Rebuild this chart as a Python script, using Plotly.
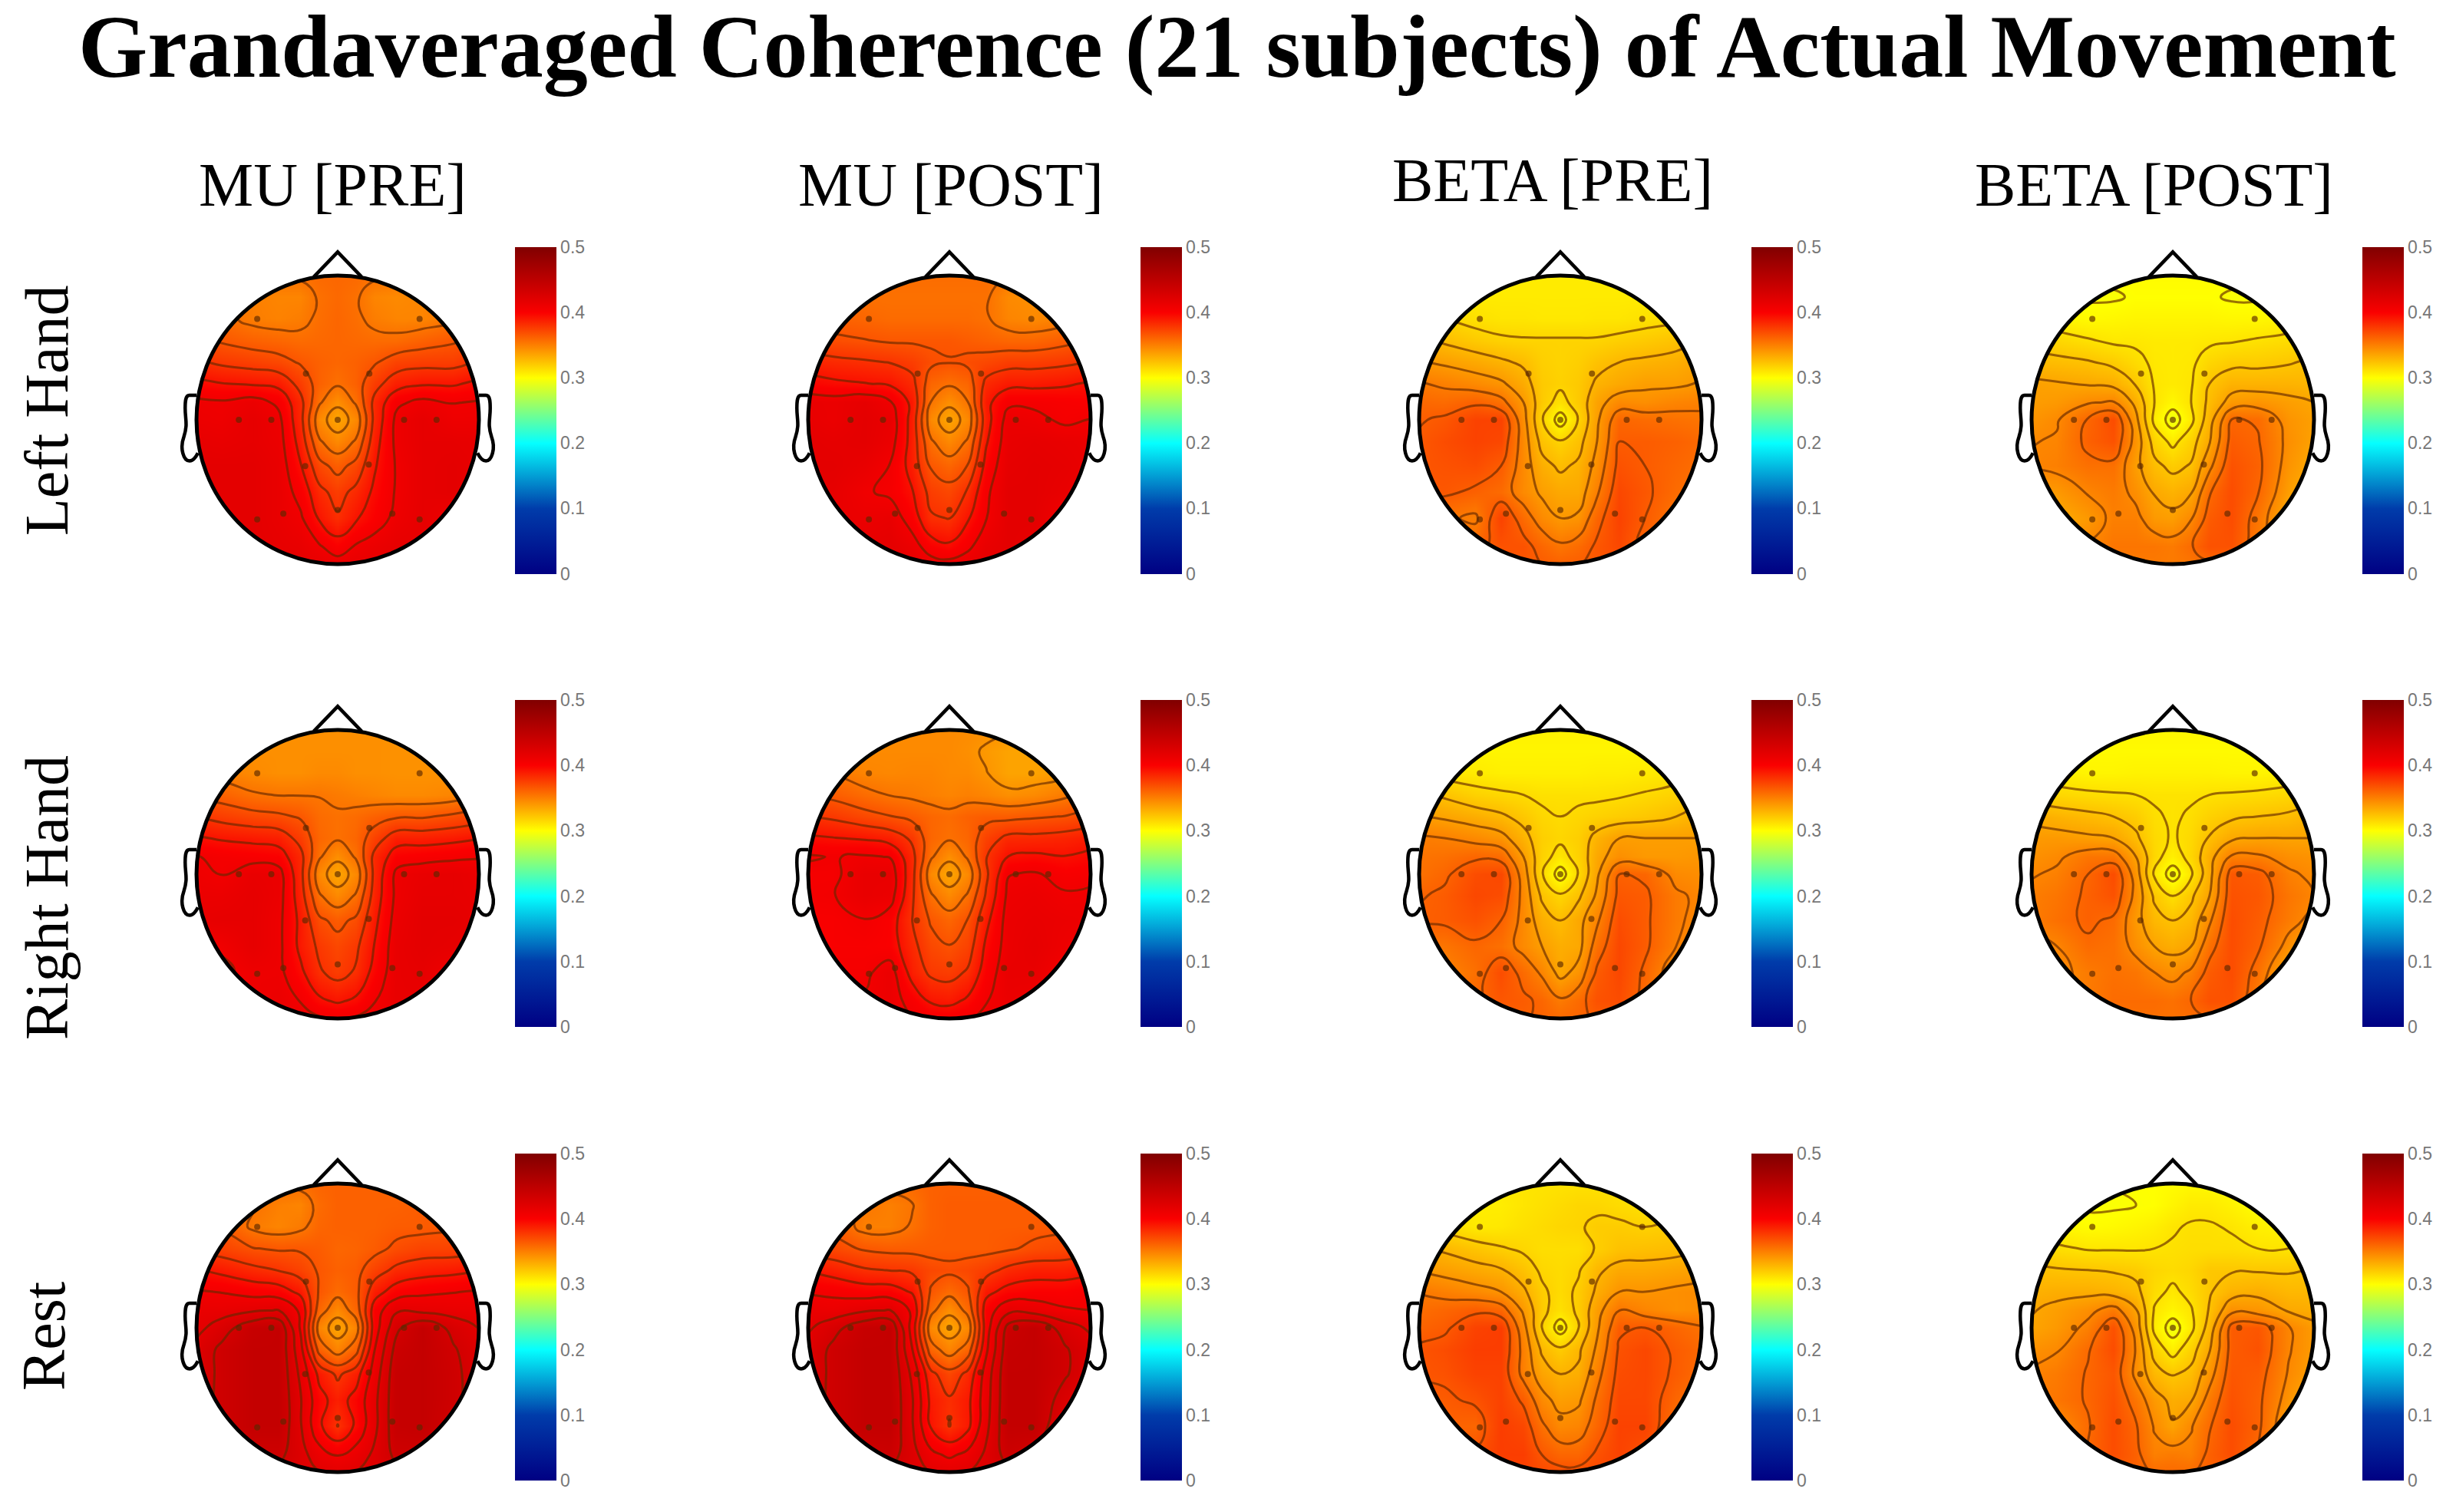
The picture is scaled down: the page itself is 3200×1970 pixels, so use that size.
import numpy as np
import plotly.graph_objects as go
from plotly.subplots import make_subplots

chart_title = "Grandaveraged Coherence (21 subjects) of Actual Movement"
band_titles = ["MU [PRE]", "MU [POST]", "BETA [PRE]", "BETA [POST]"]
condition_titles = ["Left Hand", "Right Hand", "Rest"]

cbar_ticks = [0, 0.1, 0.2, 0.3, 0.4, 0.5]
cbar_labels = ["0", "0.1", "0.2", "0.3", "0.4", "0.5"]

# scalp grid nodes, head radius = 1
grid_x = [-1.06, -0.82, -0.6, -0.42, -0.26, -0.13, 0, 0.13, 0.26, 0.42, 0.6, 0.82, 1.06]
grid_y = [1.06, 0.85, 0.7, 0.55, 0.4, 0.25, 0.12, 0, -0.15, -0.32, -0.5, -0.68, -0.88, -1.06]

electrode_x = [-0.57, 0.58, -0.225, 0.224, -0.7, -0.47, 0, 0.47, 0.7, -0.23, 0.22, 0, -0.385, 0.387, -0.57, 0.58]
electrode_y = [0.7, 0.7, 0.32, 0.32, 0, 0, 0, 0, 0, -0.32, -0.31, -0.625, -0.65, -0.65, -0.69, -0.69]

# coherence x 1000, rows run front of head to back
mu_pre_left = [
    [380, 380, 380, 380, 380, 380, 380, 380, 380, 380, 380, 380, 380],
    [380, 378, 370, 368, 368, 376, 379, 376, 368, 366, 368, 378, 380],
    [384, 378, 371, 369, 371, 377, 380, 377, 371, 368, 368, 374, 384],
    [392, 386, 382, 380, 378, 379, 380, 379, 378, 378, 382, 386, 392],
    [404, 398, 395, 392, 386, 382, 380, 382, 386, 394, 396, 396, 404],
    [418, 414, 412, 410, 396, 382, 376, 382, 396, 408, 412, 412, 418],
    [430, 428, 432, 424, 404, 376, 364, 376, 404, 424, 430, 426, 428],
    [432, 430, 436, 430, 404, 366, 355, 366, 404, 430, 436, 430, 430],
    [436, 434, 436, 432, 408, 376, 366, 376, 408, 430, 436, 436, 434],
    [438, 438, 438, 434, 414, 392, 383, 392, 412, 428, 436, 438, 434],
    [438, 438, 438, 434, 422, 404, 396, 404, 416, 428, 436, 438, 432],
    [438, 438, 438, 434, 428, 412, 402, 412, 420, 430, 436, 430, 426],
    [438, 438, 438, 436, 434, 428, 420, 428, 432, 436, 436, 430, 428],
    [438, 438, 438, 438, 438, 438, 438, 438, 438, 438, 438, 438, 438],
]
mu_post_left = [
    [378, 378, 378, 378, 378, 378, 378, 378, 378, 378, 378, 378, 378],
    [380, 378, 376, 376, 376, 376, 376, 376, 376, 366, 364, 368, 378],
    [384, 382, 380, 378, 378, 378, 378, 378, 376, 368, 366, 370, 380],
    [394, 390, 388, 386, 386, 386, 386, 384, 382, 380, 380, 384, 390],
    [408, 404, 402, 400, 396, 390, 388, 390, 392, 396, 396, 398, 402],
    [420, 416, 414, 412, 404, 380, 376, 380, 404, 410, 410, 412, 416],
    [434, 432, 436, 428, 410, 374, 364, 374, 410, 424, 424, 422, 420],
    [436, 432, 438, 434, 408, 366, 355, 366, 408, 432, 430, 424, 428],
    [438, 436, 438, 432, 408, 376, 366, 376, 412, 434, 436, 434, 432],
    [438, 438, 434, 426, 408, 386, 380, 388, 418, 436, 438, 436, 432],
    [438, 436, 428, 424, 414, 396, 392, 402, 424, 438, 438, 434, 428],
    [436, 434, 432, 434, 420, 402, 400, 412, 426, 438, 438, 426, 420],
    [436, 434, 436, 438, 432, 420, 416, 424, 434, 438, 436, 426, 424],
    [438, 438, 438, 438, 438, 438, 438, 438, 438, 438, 438, 438, 438],
]
beta_pre_left = [
    [320, 320, 320, 320, 320, 320, 320, 320, 320, 320, 320, 320, 320],
    [320, 320, 320, 320, 320, 320, 320, 320, 320, 320, 320, 320, 320],
    [332, 328, 324, 322, 322, 321, 321, 321, 322, 322, 324, 326, 332],
    [344, 338, 333, 330, 329, 329, 329, 329, 329, 331, 333, 336, 342],
    [354, 350, 346, 342, 338, 331, 329, 331, 336, 340, 342, 344, 350],
    [366, 362, 358, 354, 345, 333, 330, 333, 342, 346, 350, 350, 354],
    [372, 370, 374, 368, 352, 333, 324, 333, 348, 358, 356, 360, 362],
    [374, 378, 386, 386, 356, 329, 310, 329, 350, 372, 370, 368, 366],
    [376, 382, 386, 384, 358, 336, 329, 336, 352, 376, 376, 374, 370],
    [378, 380, 382, 376, 358, 344, 338, 342, 356, 380, 376, 372, 368],
    [378, 378, 374, 370, 358, 350, 346, 346, 362, 384, 378, 370, 366],
    [370, 366, 362, 386, 370, 358, 352, 354, 372, 386, 376, 366, 362],
    [376, 372, 372, 380, 380, 372, 366, 370, 378, 384, 372, 368, 368],
    [378, 378, 378, 378, 378, 378, 378, 378, 378, 378, 378, 378, 378],
]
beta_post_left = [
    [314, 314, 314, 314, 314, 314, 314, 314, 314, 314, 314, 314, 314],
    [312, 310, 310, 310, 312, 312, 312, 312, 312, 310, 310, 312, 314],
    [320, 316, 314, 315, 316, 316, 316, 316, 316, 315, 315, 317, 322],
    [332, 328, 324, 321, 321, 320, 320, 320, 321, 322, 324, 326, 330],
    [340, 338, 336, 332, 326, 321, 320, 321, 328, 332, 332, 334, 338],
    [350, 348, 346, 344, 334, 322, 320, 322, 335, 342, 342, 342, 340],
    [350, 352, 358, 360, 344, 323, 315, 323, 338, 352, 354, 350, 346],
    [352, 358, 372, 382, 350, 320, 305, 320, 342, 372, 370, 354, 348],
    [358, 360, 374, 380, 354, 330, 320, 330, 346, 376, 372, 356, 346],
    [360, 362, 368, 368, 350, 338, 332, 336, 356, 380, 374, 354, 342],
    [352, 352, 360, 364, 356, 346, 342, 346, 370, 382, 372, 350, 340],
    [346, 344, 352, 362, 362, 352, 350, 358, 376, 382, 366, 344, 338],
    [356, 354, 360, 366, 366, 366, 364, 370, 380, 380, 364, 352, 348],
    [364, 364, 364, 364, 364, 364, 364, 364, 364, 364, 364, 364, 364],
]
mu_pre_right = [
    [364, 364, 364, 364, 364, 364, 364, 364, 364, 364, 364, 364, 364],
    [366, 364, 364, 364, 364, 364, 364, 364, 364, 363, 363, 363, 364],
    [372, 370, 366, 364, 364, 366, 366, 364, 364, 363, 363, 363, 366],
    [386, 382, 376, 374, 374, 374, 372, 370, 368, 366, 366, 368, 376],
    [402, 396, 392, 390, 386, 378, 376, 378, 382, 386, 386, 390, 396],
    [416, 412, 410, 408, 396, 380, 376, 380, 394, 408, 408, 410, 414],
    [428, 424, 422, 420, 404, 376, 364, 376, 404, 420, 422, 424, 426],
    [430, 426, 434, 432, 404, 366, 355, 366, 404, 430, 434, 436, 432],
    [432, 432, 436, 432, 406, 376, 366, 376, 406, 430, 436, 436, 434],
    [434, 436, 436, 430, 410, 390, 384, 390, 410, 432, 438, 438, 434],
    [426, 428, 436, 430, 410, 398, 392, 398, 414, 434, 438, 436, 432],
    [424, 424, 430, 430, 416, 402, 396, 402, 418, 434, 436, 428, 420],
    [430, 428, 430, 432, 426, 416, 412, 416, 426, 434, 434, 426, 426],
    [434, 434, 434, 434, 434, 434, 434, 434, 434, 434, 434, 434, 434],
]
mu_post_right = [
    [366, 366, 366, 366, 366, 366, 366, 366, 366, 366, 366, 366, 366],
    [368, 366, 366, 366, 366, 366, 366, 364, 360, 356, 356, 360, 368],
    [376, 374, 368, 367, 368, 368, 366, 366, 362, 356, 356, 360, 372],
    [388, 384, 378, 374, 372, 370, 368, 370, 368, 364, 366, 372, 382],
    [402, 398, 392, 388, 384, 380, 378, 382, 384, 384, 386, 388, 394],
    [416, 414, 412, 408, 398, 380, 376, 380, 394, 404, 404, 406, 410],
    [428, 426, 428, 426, 404, 376, 364, 376, 400, 414, 416, 414, 418],
    [424, 424, 434, 434, 404, 366, 355, 366, 398, 426, 428, 422, 424],
    [424, 426, 434, 432, 402, 376, 366, 376, 402, 430, 432, 428, 430],
    [422, 422, 426, 420, 400, 386, 380, 388, 410, 432, 434, 432, 430],
    [422, 422, 422, 420, 404, 392, 388, 394, 416, 432, 436, 430, 426],
    [424, 424, 424, 432, 408, 398, 396, 402, 420, 434, 434, 424, 418],
    [428, 428, 428, 432, 422, 412, 410, 416, 426, 432, 430, 424, 424],
    [430, 430, 430, 430, 430, 430, 430, 430, 430, 430, 430, 430, 430],
]
beta_pre_right = [
    [318, 318, 318, 318, 318, 318, 318, 318, 318, 318, 318, 318, 318],
    [318, 316, 316, 316, 316, 316, 316, 316, 316, 316, 316, 318, 318],
    [330, 322, 320, 318, 318, 318, 318, 318, 319, 319, 320, 322, 330],
    [342, 336, 330, 328, 326, 324, 324, 324, 324, 325, 327, 330, 338],
    [352, 348, 344, 340, 334, 328, 326, 328, 330, 332, 334, 338, 346],
    [364, 362, 358, 354, 342, 331, 328, 331, 342, 350, 350, 350, 350],
    [366, 368, 372, 370, 350, 330, 322, 330, 346, 356, 352, 352, 354],
    [366, 372, 382, 384, 356, 327, 308, 327, 348, 374, 372, 358, 356],
    [372, 376, 384, 382, 358, 336, 328, 336, 352, 378, 376, 364, 358],
    [374, 376, 380, 374, 358, 344, 338, 346, 360, 382, 376, 364, 356],
    [368, 366, 372, 368, 358, 350, 344, 346, 368, 384, 376, 362, 352],
    [360, 360, 368, 382, 370, 360, 346, 354, 376, 384, 372, 354, 348],
    [370, 368, 372, 378, 376, 372, 364, 370, 380, 382, 370, 360, 358],
    [374, 374, 374, 374, 374, 374, 374, 374, 374, 374, 374, 374, 374],
]
beta_post_right = [
    [316, 316, 316, 316, 316, 316, 316, 316, 316, 316, 316, 316, 316],
    [316, 314, 314, 314, 314, 314, 314, 314, 314, 314, 314, 314, 316],
    [322, 318, 316, 316, 317, 317, 317, 317, 317, 316, 316, 318, 322],
    [332, 328, 326, 325, 324, 323, 323, 323, 324, 325, 326, 328, 334],
    [346, 342, 339, 336, 332, 325, 323, 325, 330, 334, 336, 338, 344],
    [352, 352, 350, 348, 338, 327, 323, 327, 337, 346, 348, 348, 348],
    [354, 358, 366, 366, 348, 328, 318, 328, 344, 362, 362, 356, 354],
    [358, 362, 372, 382, 354, 322, 306, 322, 344, 378, 376, 362, 356],
    [362, 366, 374, 380, 356, 334, 324, 334, 348, 380, 378, 366, 358],
    [362, 368, 374, 370, 352, 340, 336, 340, 358, 382, 376, 364, 354],
    [356, 360, 370, 368, 356, 348, 344, 348, 368, 382, 374, 356, 342],
    [354, 356, 364, 368, 366, 360, 356, 362, 376, 382, 368, 344, 338],
    [360, 358, 364, 370, 370, 370, 368, 372, 380, 380, 364, 348, 346],
    [368, 368, 368, 368, 368, 368, 368, 368, 368, 368, 368, 368, 368],
]
mu_pre_rest = [
    [382, 382, 382, 382, 382, 382, 382, 382, 382, 382, 382, 382, 382],
    [384, 382, 376, 370, 368, 378, 382, 382, 382, 382, 384, 386, 388],
    [388, 386, 372, 368, 372, 380, 382, 382, 382, 384, 384, 386, 390],
    [398, 394, 388, 386, 386, 384, 380, 381, 384, 390, 394, 394, 398],
    [416, 410, 404, 400, 394, 386, 382, 384, 394, 404, 408, 410, 414],
    [428, 426, 422, 420, 410, 386, 378, 384, 408, 420, 424, 426, 428],
    [434, 434, 438, 440, 424, 380, 366, 380, 420, 438, 436, 434, 432],
    [432, 446, 462, 464, 424, 368, 355, 368, 420, 450, 464, 448, 436],
    [438, 456, 464, 464, 430, 382, 368, 382, 426, 458, 464, 454, 440],
    [440, 456, 464, 464, 436, 410, 398, 408, 432, 462, 464, 456, 442],
    [442, 456, 464, 464, 440, 418, 408, 418, 436, 462, 464, 456, 442],
    [444, 456, 464, 464, 440, 416, 400, 416, 436, 462, 464, 454, 438],
    [444, 450, 456, 456, 444, 432, 426, 432, 442, 456, 456, 446, 440],
    [444, 444, 444, 444, 444, 444, 444, 444, 444, 444, 444, 444, 444],
]
mu_post_rest = [
    [382, 382, 382, 382, 382, 382, 382, 382, 382, 382, 382, 382, 382],
    [384, 382, 374, 370, 374, 382, 384, 384, 384, 384, 384, 386, 388],
    [388, 384, 370, 370, 376, 382, 384, 384, 384, 384, 384, 386, 392],
    [396, 392, 386, 384, 384, 384, 384, 384, 384, 386, 390, 392, 398],
    [414, 408, 402, 400, 398, 392, 390, 392, 396, 404, 408, 408, 412],
    [426, 424, 420, 420, 412, 386, 378, 386, 410, 418, 420, 420, 424],
    [434, 432, 438, 440, 424, 378, 364, 378, 420, 436, 434, 428, 426],
    [434, 448, 462, 464, 420, 366, 355, 366, 420, 458, 464, 446, 434],
    [438, 456, 464, 464, 426, 380, 368, 380, 424, 462, 464, 454, 440],
    [440, 456, 464, 464, 436, 404, 392, 404, 432, 464, 464, 454, 440],
    [442, 456, 464, 464, 440, 410, 402, 410, 434, 464, 464, 446, 434],
    [444, 456, 464, 464, 440, 412, 400, 410, 436, 464, 464, 438, 428],
    [444, 450, 456, 458, 444, 430, 424, 430, 442, 458, 452, 436, 430],
    [444, 444, 444, 444, 444, 444, 444, 444, 444, 444, 444, 444, 444],
]
beta_pre_rest = [
    [322, 322, 322, 322, 322, 322, 322, 322, 322, 322, 322, 322, 322],
    [320, 320, 319, 319, 322, 324, 326, 328, 328, 326, 324, 328, 332],
    [332, 326, 320, 321, 324, 326, 328, 329, 332, 332, 330, 332, 338],
    [344, 340, 335, 331, 328, 325, 325, 325, 331, 336, 337, 338, 342],
    [354, 350, 346, 343, 336, 328, 326, 329, 340, 346, 346, 348, 350],
    [366, 362, 358, 354, 344, 332, 326, 332, 344, 354, 354, 356, 358],
    [368, 372, 376, 372, 352, 333, 324, 332, 350, 366, 360, 356, 358],
    [372, 376, 386, 388, 358, 330, 312, 330, 352, 376, 378, 372, 366],
    [378, 382, 388, 388, 362, 340, 332, 340, 356, 380, 384, 376, 370],
    [378, 380, 386, 386, 362, 348, 342, 344, 362, 382, 384, 376, 368],
    [376, 376, 380, 386, 376, 358, 350, 352, 368, 384, 384, 372, 364],
    [376, 374, 372, 388, 384, 368, 358, 360, 372, 386, 386, 368, 358],
    [382, 380, 380, 388, 388, 378, 372, 372, 380, 386, 380, 370, 368],
    [386, 386, 386, 386, 386, 386, 386, 386, 386, 386, 386, 386, 386],
]
beta_post_rest = [
    [312, 312, 312, 312, 312, 312, 312, 312, 312, 312, 312, 312, 312],
    [312, 311, 310, 310, 311, 312, 316, 320, 320, 317, 312, 312, 314],
    [320, 315, 313, 314, 316, 318, 322, 324, 324, 322, 318, 316, 320],
    [330, 325, 322, 322, 322, 323, 324, 325, 325, 325, 323, 323, 328],
    [338, 336, 335, 334, 332, 328, 326, 328, 334, 334, 334, 334, 336],
    [342, 344, 344, 342, 338, 326, 321, 326, 334, 342, 344, 340, 340],
    [345, 350, 356, 364, 348, 322, 316, 322, 336, 356, 354, 346, 344],
    [346, 352, 362, 380, 354, 320, 305, 320, 340, 376, 378, 360, 348],
    [354, 358, 370, 382, 358, 330, 318, 330, 346, 376, 380, 360, 348],
    [360, 364, 372, 378, 356, 340, 334, 338, 354, 378, 376, 358, 346],
    [364, 366, 372, 380, 366, 352, 344, 346, 364, 380, 374, 354, 340],
    [358, 356, 370, 382, 372, 358, 348, 358, 370, 382, 374, 348, 338],
    [366, 362, 372, 382, 374, 362, 364, 362, 374, 382, 370, 352, 346],
    [374, 374, 374, 374, 374, 374, 374, 374, 374, 374, 374, 374, 374],
]

scalp_maps = [
    [mu_pre_left, mu_post_left, beta_pre_left, beta_post_left],
    [mu_pre_right, mu_post_right, beta_pre_right, beta_post_right],
    [mu_pre_rest, mu_post_rest, beta_pre_rest, beta_post_rest],
]
contour_steps = [0.013, 0.013, 0.012, 0.012]

# the grids above came out a bit high against the jet bar
read_offsets = [20, 20, 12, 12]

W, H = 3200, 1970
PAGE_MARGIN = 8  # browser default body margin
HEAD_X = [440, 1237, 2033, 2831]
HEAD_Y = [547, 1139, 1730]
RX, RY = 184, 188
VIEW = 1.2
BAR_LEFT = [671, 1486, 2282, 3078]
BAR_MID = [534.5, 1125, 1716]
BAR_LEN = 426
SERIF = "Liberation Serif"


def fx(px):
    return (px - PAGE_MARGIN) / W


def fy(py):
    return 1 - (py - PAGE_MARGIN) / H


def ear_path(side):
    pts = [
        (1.0, 0.17), (1.05, 0.17), (1.08, 0.17), (1.08, 0.12), (1.08, 0.08),
        (1.08, 0.0), (1.06, -0.03), (1.09, -0.12), (1.12, -0.2), (1.09, -0.285),
        (1.05, -0.285), (1.02, -0.285), (1.0, -0.25), (0.99, -0.23),
    ]
    xy = [f"{side * x},{y}" for x, y in pts]
    path = f"M {xy[0]} L {xy[1]}"
    for i in range(2, len(xy), 3):
        path += f" C {xy[i]} {xy[i + 1]} {xy[i + 2]}"
    return path


# white sheet with a round hole, trims the square grid to the head
angles = np.linspace(0, 2 * np.pi, 121)
hole = " L ".join(f"{np.cos(a):.4f},{np.sin(a):.4f}" for a in angles)
v = VIEW
mask_path = f"M {-v},{-v} L {v},{-v} L {v},{v} L {-v},{v} Z M {hole} Z"
nose_path = "M -0.17,0.99 L 0,1.163 L 0.17,0.99"

fig = make_subplots(rows=3, cols=4)
xs = np.array(grid_x)
ys = np.array(grid_y)[::-1]

for r, row_maps in enumerate(scalp_maps):
    for c, rows in enumerate(row_maps):
        z = (np.array(rows, dtype=float)[::-1] - read_offsets[c]) / 1000
        step = contour_steps[c]
        fig.add_trace(
            go.Heatmap(
                x=xs, y=ys, z=z, zmin=0, zmax=0.5, colorscale="Jet", zsmooth="best",
                hoverinfo="skip",
                colorbar=dict(
                    x=fx(BAR_LEFT[c]), xanchor="left", xpad=0,
                    y=fy(BAR_MID[r]), yanchor="middle", ypad=0,
                    len=BAR_LEN / H, thickness=54, outlinewidth=0,
                    tickvals=cbar_ticks, ticktext=cbar_labels, ticks="",
                    tickfont=dict(family="Liberation Sans", size=23, color="#777777"),
                ),
            ),
            row=r + 1, col=c + 1,
        )
        fig.add_trace(
            go.Contour(
                x=xs, y=ys, z=z, showscale=False, hoverinfo="skip",
                contours=dict(coloring="none", start=z.min() + step / 2, end=z.max(), size=step),
                line=dict(color="rgba(100,40,0,0.65)", width=3, smoothing=1.3),
            ),
            row=r + 1, col=c + 1,
        )
        fig.add_trace(
            go.Scatter(
                x=electrode_x, y=electrode_y, mode="markers", hoverinfo="skip",
                marker=dict(size=8, color="rgba(90,40,0,0.65)"),
            ),
            row=r + 1, col=c + 1,
        )
        fig.add_shape(type="path", path=mask_path, fillcolor="white", line_width=0,
                      layer="above", row=r + 1, col=c + 1)
        fig.add_shape(type="circle", x0=-1, x1=1, y0=-1, y1=1, line=dict(color="black", width=5),
                      layer="above", row=r + 1, col=c + 1)
        for shape_path in (nose_path, ear_path(-1), ear_path(1)):
            fig.add_shape(type="path", path=shape_path, line=dict(color="black", width=4.5),
                          layer="above", row=r + 1, col=c + 1)
        fig.update_xaxes(
            domain=[fx(HEAD_X[c] - VIEW * RX), fx(HEAD_X[c] + VIEW * RX)],
            range=[-VIEW, VIEW], visible=False, row=r + 1, col=c + 1,
        )
        fig.update_yaxes(
            domain=[fy(HEAD_Y[r] + VIEW * RY), fy(HEAD_Y[r] - VIEW * RY)],
            range=[-VIEW, VIEW], visible=False, row=r + 1, col=c + 1,
        )


def add_text(text, px, py, size, bold=False, angle=0):
    label = f"<b>{text}</b>" if bold else text
    fig.add_annotation(
        text=label, x=fx(px), y=fy(py), xref="paper", yref="paper", showarrow=False,
        xanchor="center", yanchor="middle", textangle=angle,
        font=dict(family=SERIF, size=size, color="black"),
    )


add_text(chart_title, 1612, 62, 116, bold=True)
for label, px, py in zip(band_titles, [433, 1239, 2023, 2806], [241, 241, 235, 241]):
    add_text(label, px, py, 80)
for label, px, py in zip(condition_titles, [61, 61, 57], [535, 1170, 1741]):
    add_text(label, px, py, 80, angle=-90)

fig.update_layout(
    width=W, height=H, margin=dict(l=0, r=0, t=0, b=0),
    paper_bgcolor="white", plot_bgcolor="white", showlegend=False,
)

fig.write_html("out.html")
